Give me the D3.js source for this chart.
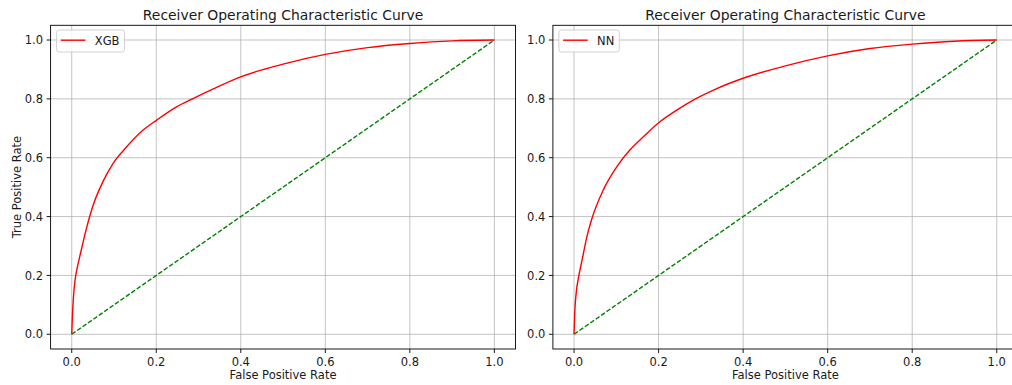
<!DOCTYPE html>
<html>
<head>
<meta charset="utf-8">
<script src="https://cdn.jsdelivr.net/npm/d3@7"></script>
<style>
  html, body { margin: 0; padding: 0; background: #fff; }
  svg { display: block; font-family: "DejaVu Sans", sans-serif; }
</style>
</head>
<body>
<svg id="chart" width="1012" height="385"></svg>
<script>
// ROC curve points (false positive rate, true positive rate) for each model
const xgbFpr = [0, 0.001, 0.002, 0.004, 0.008, 0.016, 0.024, 0.031, 0.051, 0.075, 0.098, 0.130, 0.169, 0.201, 0.248, 0.288, 0.335, 0.398, 0.50, 0.60, 0.70, 0.80, 0.90, 1.0];
const xgbTpr = [0, 0.04, 0.075, 0.125, 0.185, 0.245, 0.295, 0.338, 0.440, 0.522, 0.581, 0.637, 0.694, 0.728, 0.773, 0.802, 0.834, 0.874, 0.918, 0.951, 0.974, 0.988, 0.997, 1.0];

const nnFpr = [0, 0.0016, 0.005, 0.011, 0.019, 0.031, 0.042, 0.069, 0.101, 0.132, 0.164, 0.203, 0.243, 0.282, 0.330, 0.40, 0.50, 0.60, 0.70, 0.80, 0.90, 1.0];
const nnTpr = [0, 0.071, 0.139, 0.196, 0.252, 0.335, 0.392, 0.490, 0.569, 0.626, 0.671, 0.722, 0.762, 0.796, 0.830, 0.870, 0.912, 0.946, 0.971, 0.986, 0.996, 1.0];

// Chance diagonal
const diagFpr = [0, 1];
const diagTpr = [0, 1];

const tickValues = [0, 0.2, 0.4, 0.6, 0.8, 1.0];
const tickLabels = ["0.0", "0.2", "0.4", "0.6", "0.8", "1.0"];

const titleText = "Receiver Operating Characteristic Curve";
const xLabelText = "False Positive Rate";
const yLabelText = "True Positive Rate";

const svg = d3.select("#chart");
svg.append("rect").attr("width", 1012).attr("height", 385).attr("fill", "#fff");

const FONT = 11.5;
const TEXT = "#1a1a1a";

function drawPanel(left, right, fpr, tpr, name, showYLabelSliver) {
  const top = 25.3, bottom = 349;
  const x = d3.scaleLinear().domain([-0.05, 1.05]).range([left, right]);
  const y = d3.scaleLinear().domain([-0.05, 1.05]).range([bottom, top]);

  const g = svg.append("g");

  // grid
  g.selectAll("line.gx").data(tickValues).join("line")
    .attr("x1", d => x(d)).attr("x2", d => x(d))
    .attr("y1", top).attr("y2", bottom)
    .attr("stroke", "#b0b0b0").attr("stroke-width", 0.9).attr("stroke-opacity", 0.85);
  g.selectAll("line.gy").data(tickValues).join("line")
    .attr("y1", d => y(d)).attr("y2", d => y(d))
    .attr("x1", left).attr("x2", right)
    .attr("stroke", "#b0b0b0").attr("stroke-width", 0.9).attr("stroke-opacity", 0.85);

  // diagonal
  const line = d3.line().x(d => x(d[0])).y(d => y(d[1]));
  g.append("path")
    .datum(diagFpr.map((v, i) => [v, diagTpr[i]]))
    .attr("d", line)
    .attr("fill", "none").attr("stroke", "green")
    .attr("stroke-width", 1.4).attr("stroke-dasharray", "4.6,2");

  // ROC curve
  const curve = d3.line().x(d => x(d[0])).y(d => y(d[1])).curve(d3.curveMonotoneX);
  g.append("path")
    .datum(fpr.map((v, i) => [v, tpr[i]]))
    .attr("d", curve)
    .attr("fill", "none").attr("stroke", "red").attr("stroke-width", 1.4);

  // spines
  g.append("rect")
    .attr("x", left).attr("y", top)
    .attr("width", right - left).attr("height", bottom - top)
    .attr("fill", "none").attr("stroke", "#000").attr("stroke-width", 0.9);

  // x ticks
  const xt = g.append("g");
  xt.selectAll("line").data(tickValues).join("line")
    .attr("x1", d => x(d)).attr("x2", d => x(d))
    .attr("y1", bottom).attr("y2", bottom + 4)
    .attr("stroke", "#000").attr("stroke-width", 0.9);
  xt.selectAll("text").data(tickValues).join("text")
    .attr("x", d => x(d)).attr("y", 365.5)
    .attr("text-anchor", "middle").attr("font-size", FONT).attr("fill", TEXT)
    .text((d, i) => tickLabels[i]);

  // y ticks
  const yt = g.append("g");
  yt.selectAll("line").data(tickValues).join("line")
    .attr("y1", d => y(d)).attr("y2", d => y(d))
    .attr("x1", left - 4).attr("x2", left)
    .attr("stroke", "#000").attr("stroke-width", 0.9);
  yt.selectAll("text").data(tickValues).join("text")
    .attr("x", left - 7.5).attr("y", d => y(d) + 4.2)
    .attr("text-anchor", "end").attr("font-size", FONT).attr("fill", TEXT)
    .text((d, i) => tickLabels[i]);

  // title and axis labels
  const cx = (left + right) / 2;
  g.append("text").attr("x", cx).attr("y", 20.3)
    .attr("text-anchor", "middle").attr("font-size", 13.9).attr("fill", TEXT)
    .text(titleText);
  g.append("text").attr("x", cx).attr("y", 378.5)
    .attr("text-anchor", "middle").attr("font-size", FONT).attr("fill", TEXT)
    .text(xLabelText);

  const ylx = left - 30;
  const yl = g.append("text")
    .attr("transform", `translate(${ylx},${(top + bottom) / 2}) rotate(-90)`)
    .attr("text-anchor", "middle").attr("font-size", FONT).attr("fill", TEXT)
    .text(yLabelText);
  if (showYLabelSliver) {
    // the label sits under the neighbouring panel; only a thin edge shows
    const clipId = "clip-" + name;
    svg.append("clipPath").attr("id", clipId)
      .append("rect").attr("x", 520.6).attr("y", 0).attr("width", 3).attr("height", 385);
    yl.attr("clip-path", `url(#${clipId})`).attr("fill", "#777");
  }

  // legend
  const lg = g.append("g");
  const bx = left + 6, by = top + 4.7;
  const box = lg.append("rect")
    .attr("x", bx).attr("y", by).attr("height", 22).attr("rx", 2.5)
    .attr("fill", "#fff").attr("fill-opacity", 0.8)
    .attr("stroke", "#cccccc").attr("stroke-width", 0.9);
  lg.append("line")
    .attr("x1", bx + 4.2).attr("x2", bx + 28.8)
    .attr("y1", by + 10.2).attr("y2", by + 10.2)
    .attr("stroke", "red").attr("stroke-width", 1.4);
  const lt = lg.append("text")
    .attr("x", bx + 38.2).attr("y", by + 14.5)
    .attr("font-size", FONT).attr("fill", TEXT)
    .text(name);
  const tw = lt.node().getComputedTextLength();
  box.attr("width", 38.2 + tw + 5);
}

drawPanel(50.6, 515.5, xgbFpr, xgbTpr, "XGB", false);
drawPanel(552.9, 1017.9, nnFpr, nnTpr, "NN", true);
</script>
</body>
</html>
